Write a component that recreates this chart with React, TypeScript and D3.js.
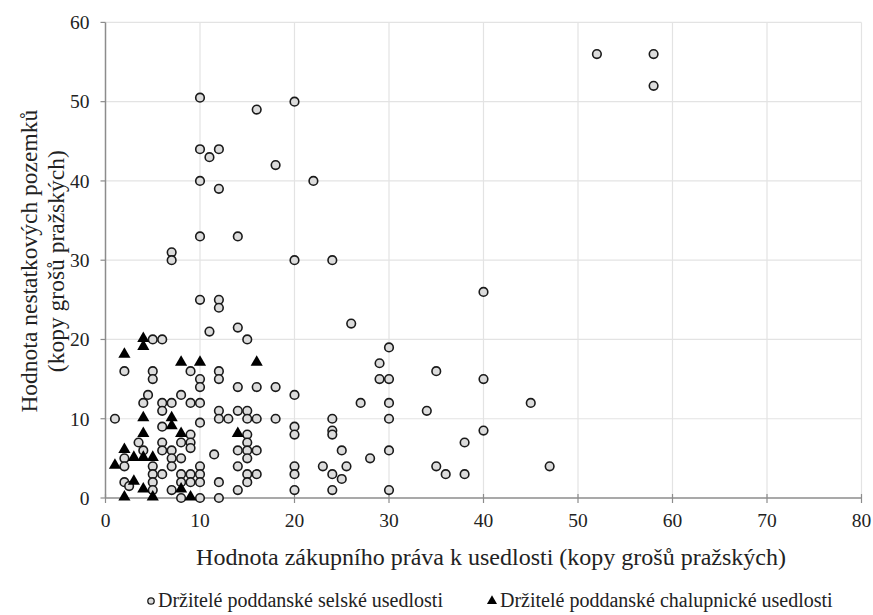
import React from "react";
import * as d3 from "d3";

// Owners of peasant farmsteads (selské usedlosti): [purchase-right value, land value]
const farmX = [52, 58, 58, 10, 16, 20, 10, 12, 11, 18, 10, 22, 12, 10, 14, 7, 7, 20, 24, 40, 10, 12, 12, 26, 11, 14, 15, 5, 6, 30, 29, 2, 5, 9, 12, 35, 5, 10, 12, 29, 30, 40, 10, 14, 16, 18, 4.5, 8, 20, 4, 6, 7, 9, 10, 27, 30, 45, 6, 12, 14, 15, 34, 1, 12, 13, 15, 16, 18, 24, 30, 10, 6, 20, 24, 40, 9, 15, 20, 24, 8, 9, 3.5, 6, 15, 38, 4, 6, 7, 9, 14, 15, 16, 25, 30, 11.5, 2, 7, 8, 15, 28, 2, 5, 7, 10, 14, 20, 23, 25.5, 35, 47, 5, 6, 8, 9, 10, 15, 16, 20, 24, 36, 38, 2, 2.5, 5, 8, 9, 10, 12, 15, 25, 5, 7, 14, 20, 24, 30, 8, 10, 12];
const farmY = [56, 56, 52, 50.5, 49, 50, 44, 44, 43, 42, 40, 40, 39, 33, 33, 31, 30, 30, 30, 26, 25, 25, 24, 22, 21, 21.5, 20, 20, 20, 19, 17, 16, 16, 16, 16, 16, 15, 15, 15, 15, 15, 15, 14, 14, 14, 14, 13, 13, 13, 12, 12, 12, 12, 12, 12, 12, 12, 11, 11, 11, 11, 11, 10, 10, 10, 10, 10, 10, 10, 10, 9.5, 9, 9, 8.5, 8.5, 8, 8, 8, 8, 7, 7, 7, 7, 7, 7, 6, 6, 6, 6.3, 6, 6, 6, 6, 6, 5.5, 5, 5, 5, 5, 5, 4, 4, 4, 4, 4, 4, 4, 4, 4, 4, 3, 3, 3, 3, 3, 3, 3, 3, 3, 3, 3, 2, 1.5, 2, 2, 2, 2, 2, 2, 2.4, 1, 1, 1, 1, 1, 1, 0, 0, 0];

// Owners of cottager farmsteads (chalupnické usedlosti)
const cottX = [4, 4, 2, 8, 10, 16, 4, 7, 7, 4, 8, 14, 2, 1, 3, 4, 5, 3, 4, 8, 2, 5, 9];
const cottY = [20, 19, 18, 17, 17, 17, 10, 10, 9, 8, 8, 8, 6, 4, 5, 5, 5, 2, 1, 1, 0, 0, 0];

const xTicks = [0, 10, 20, 30, 40, 50, 60, 70, 80];
const yTicks = [0, 10, 20, 30, 40, 50, 60];

const xTitle = "Hodnota zákupního práva k usedlosti (kopy grošů pražských)";
const yTitle1 = "Hodnota nestatkových pozemků";
const yTitle2 = "(kopy grošů pražských)";
const legendFarm = "Držitelé poddanské selské usedlosti";
const legendCott = "Držitelé poddanské chalupnické usedlosti";

const W = 873;
const H = 615;
const left = 105.5;
const right = 861.5;
const top = 22.4;
const bottom = 498;
const font = "Liberation Serif, DejaVu Serif, Times New Roman, serif";

const triPath = (s: number) => d3.symbol(d3.symbolTriangle, s)() as string;

export default function App() {
  const x = d3.scaleLinear().domain([0, 80]).range([left, right]);
  const y = d3.scaleLinear().domain([0, 60]).range([bottom, top]);
  const tri = triPath(64);
  const triLegend = triPath(44);

  return (
    <svg
      width={W}
      height={H}
      style={{ position: "absolute", left: 0, top: 0, background: "#fff", fontFamily: font }}
    >
      {/* grid */}
      {xTicks.slice(1).map((t) => (
        <line key={"gx" + t} x1={x(t)} x2={x(t)} y1={top} y2={bottom} stroke="#e3e3e3" strokeWidth={1.2} />
      ))}
      {yTicks.slice(1).map((t) => (
        <line key={"gy" + t} x1={left} x2={right} y1={y(t)} y2={y(t)} stroke="#e3e3e3" strokeWidth={1.2} />
      ))}

      {/* axes */}
      <line x1={left} x2={left} y1={top} y2={bottom} stroke="#8c8c8c" strokeWidth={1.5} />
      <line x1={left} x2={right} y1={bottom} y2={bottom} stroke="#8c8c8c" strokeWidth={1.5} />
      {yTicks.map((t) => (
        <g key={"yt" + t}>
          <line x1={left - 5} x2={left} y1={y(t)} y2={y(t)} stroke="#8c8c8c" strokeWidth={1.2} />
          <text x={left - 16} y={y(t)} dy="0.35em" textAnchor="end" fontSize={19.5} fill="#222">
            {t}
          </text>
        </g>
      ))}
      {xTicks.map((t) => (
        <g key={"xt" + t}>
          <line x1={x(t)} x2={x(t)} y1={bottom - 4} y2={bottom + 5} stroke="#8c8c8c" strokeWidth={1.2} />
          <text x={x(t)} y={bottom + 29} textAnchor="middle" fontSize={19.5} fill="#222">
            {t}
          </text>
        </g>
      ))}

      {/* axis titles */}
      <text x={491} y={565} textAnchor="middle" fontSize={24} fill="#222">
        {xTitle}
      </text>
      <g transform={`translate(37, ${(top + bottom) / 2 + 1}) rotate(-90)`}>
        <text x={0} y={0} textAnchor="middle" fontSize={23.5} fill="#222">
          {yTitle1}
        </text>
        <text x={0} y={27} textAnchor="middle" fontSize={23.5} fill="#222">
          {yTitle2}
        </text>
      </g>

      {/* farmstead owners */}
      {farmX.map((v, i) => (
        <circle
          key={"f" + i}
          cx={x(v)}
          cy={y(farmY[i])}
          r={4.3}
          fill="#dcdcdc"
          stroke="#1a1a1a"
          strokeWidth={1.6}
        />
      ))}

      {/* cottager owners */}
      {cottX.map((v, i) => (
        <path key={"c" + i} d={tri} transform={`translate(${x(v)}, ${y(cottY[i]) - 1})`} fill="#000" />
      ))}

      {/* legend */}
      <circle cx={151} cy={601} r={3.2} fill="#dcdcdc" stroke="#1a1a1a" strokeWidth={1.3} />
      <text x={158} y={607} fontSize={20} fill="#222">
        {legendFarm}
      </text>
      <path d={triLegend} transform="translate(492, 601)" fill="#000" />
      <text x={500} y={607} fontSize={20} fill="#222">
        {legendCott}
      </text>
    </svg>
  );
}
